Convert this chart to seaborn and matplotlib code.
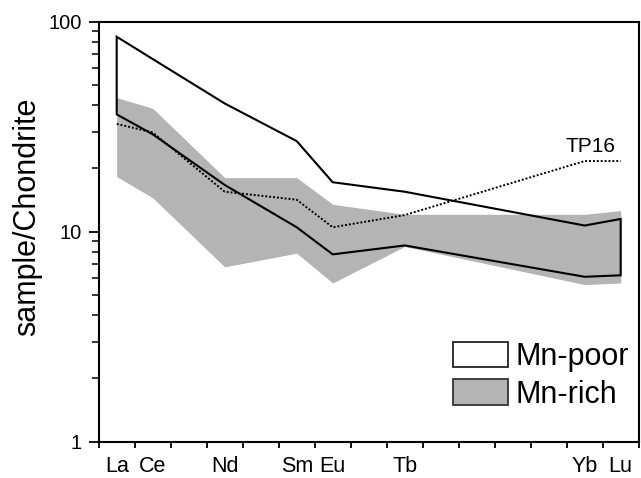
import numpy as np
import pandas as pd
import matplotlib
matplotlib.use("Agg")
import matplotlib.pyplot as plt
import seaborn as sns
from matplotlib.patches import Patch
from matplotlib.ticker import FixedLocator, FixedFormatter, NullFormatter

# ---- data (chondrite-normalised REE) ----
elements = ["La", "Ce", "Nd", "Sm", "Eu", "Tb", "Yb", "Lu"]
ree_order = [0, 1, 3, 5, 6, 8, 13, 14]          # lanthanide sequence index
mn_poor_upper = [84.8, 66.4, 40.8, 27.0, 17.2, 15.5, 10.7, 11.5]
mn_poor_lower = [36.2, 29.1, 16.7, 10.5, 7.8, 8.6, 6.1, 6.2]
mn_rich_upper = [43.5, 38.7, 18.1, 18.1, 13.5, 12.1, 12.1, 12.6]
mn_rich_lower = [18.3, 14.5, 6.8, 7.9, 5.7, 8.5, 5.6, 5.7]
tp16 = [32.6, 29.7, 15.5, 14.2, 10.5, 12.0, 21.7, 21.7]
y_ticks = [1, 10, 100]
y_tick_labels = ["1", "10", "100"]

df = pd.DataFrame({"pos": ree_order, "element": elements,
                   "poor_up": mn_poor_upper, "poor_lo": mn_poor_lower,
                   "rich_up": mn_rich_upper, "rich_lo": mn_rich_lower,
                   "tp16": tp16})

sns.set_style("ticks")
plt.rcParams["font.family"] = ["Liberation Sans", "DejaVu Sans"]
plt.rcParams["text.color"] = "black"
plt.rcParams["axes.labelcolor"] = "black"
plt.rcParams["xtick.color"] = "black"
plt.rcParams["ytick.color"] = "black"

W, H = 641, 478
fig = plt.figure(figsize=(W / 100, H / 100), dpi=100)
left, right, top, bottom = 98.7, 638.7, 21.7, 441.7
ax = fig.add_axes([left / W, 1 - bottom / H, (right - left) / W, (bottom - top) / H])

gray = "#b4b4b4"
# Mn-rich field
ax.fill_between(df["pos"], df["rich_lo"], df["rich_up"], color=gray, lw=0, zorder=2)
# Mn-poor field outline (closed polygon)
poly_x = list(df["pos"]) + list(df["pos"][::-1])
poly_y = list(df["poor_up"]) + list(df["poor_lo"][::-1])
ax.fill(poly_x, poly_y, facecolor="none", edgecolor="black", lw=1.5, zorder=3,
        joinstyle="miter")
# TP16 sample
sns.lineplot(data=df, x="pos", y="tp16", ax=ax, color="black", lw=1.4,
             linestyle=(0, (1, 1)), zorder=4, sort=False, estimator=None)
ax.text(df["pos"].iloc[-2] + 0.15, df["tp16"].iloc[-1] * 1.06, "TP16",
        fontsize=15, ha="center", va="bottom", color="black")

ax.set_yscale("log")
ax.set_ylim(1, 100)
ax.set_xlim(-0.5, 14.5)
ax.yaxis.set_major_locator(FixedLocator(y_ticks))
ax.yaxis.set_major_formatter(FixedFormatter(y_tick_labels))
ax.yaxis.set_minor_locator(FixedLocator([m * d for d in (1, 10) for m in range(2, 10)]))
ax.yaxis.set_minor_formatter(NullFormatter())
ax.set_xticks(ree_order)
ax.set_xticklabels(elements)
ax.xaxis.set_minor_locator(FixedLocator(np.arange(-0.5, 15, 1.0)))

ax.tick_params(axis="x", which="major", length=0, pad=10, labelsize=15.5,
               labelcolor="black")
ax.tick_params(axis="x", which="minor", length=4, width=1.3, direction="out")
ax.tick_params(axis="y", which="major", length=7, width=1.3, pad=5, labelsize=14.5,
               direction="out", labelcolor="black")
ax.tick_params(axis="y", which="minor", length=5, width=1.1, direction="out")
for s in ax.spines.values():
    s.set_linewidth(1.5)
    s.set_color("black")

ax.set_xlabel("")
ax.set_ylabel("sample/Chondrite", fontsize=22, color="black")
ax.yaxis.set_label_coords(-0.105, 0.536)

handles = [Patch(facecolor="white", edgecolor="#222222", lw=1.3),
           Patch(facecolor=gray, edgecolor="#333333", lw=1.3)]
ax.legend(handles, ["Mn-poor", "Mn-rich"], loc="upper left",
          bbox_to_anchor=(452.7 / W, 1 - 341.5 / H), bbox_transform=fig.transFigure,
          frameon=False, fontsize=22, handlelength=1.82, handleheight=0.92,
          handletextpad=0.22, labelspacing=0.24, borderpad=0, borderaxespad=0,
          labelcolor="black")

fig.savefig("out.png", dpi=100)
